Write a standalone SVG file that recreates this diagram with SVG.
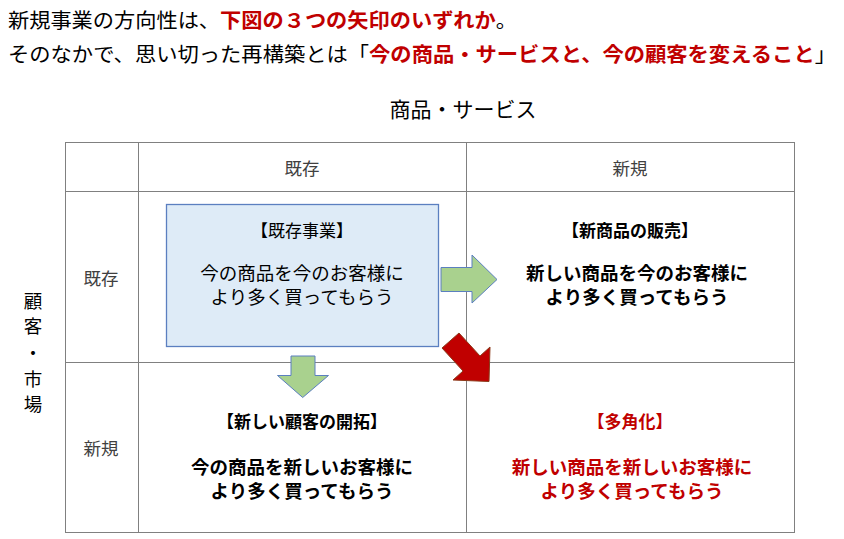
<svg xmlns="http://www.w3.org/2000/svg" width="844" height="539" viewBox="0 0 844 539">
<style>
text{font-family:"Noto Sans CJK JP","Noto Sans CJK SC",sans-serif;dominant-baseline:central;}
.t{font-size:20px;fill:#000;}
.r{fill:#C00000;font-weight:bold;}
.h{font-size:17.5px;fill:#404040;text-anchor:middle;}
.c{font-size:18.5px;fill:#000;text-anchor:middle;}
.k{font-size:17px;}
.b{font-weight:bold;}
.red{fill:#C00000;}
.grid line{stroke:#808080;stroke-width:1;}
</style>
<rect width="844" height="539" fill="#fff"/>
<g id="title">
<text class="t" x="8" y="19" textLength="509" lengthAdjust="spacingAndGlyphs">新規事業の方向性は、<tspan class="r">下図の３つの矢印のいずれか</tspan>。</text>
<text class="t" x="8" y="53" textLength="828" lengthAdjust="spacingAndGlyphs">そのなかで、思い切った再構築とは「<tspan class="r">今の商品・サービスと、今の顧客を変えること</tspan>」</text>
</g>
<g id="axis-x"><text x="463" y="108" style="font-size:21px;text-anchor:middle">商品・サービス</text></g>
<g id="axis-y" style="font-size:18.5px;text-anchor:middle">
<text x="33" y="300">顧</text><text x="33" y="325">客</text><text x="33" y="352">・</text><text x="33" y="378">市</text><text x="33" y="403">場</text>
</g>
<g id="grid" class="grid">
<rect x="65.5" y="142.5" width="729" height="390" fill="none" stroke="#808080" stroke-width="1"/>
<line x1="138.5" y1="142" x2="138.5" y2="533"/>
<line x1="466.5" y1="142" x2="466.5" y2="533"/>
<line x1="65" y1="191.5" x2="795" y2="191.5"/>
<line x1="65" y1="362.5" x2="795" y2="362.5"/>
</g>
<g id="headers">
<text class="h" x="302" y="167">既存</text>
<text class="h" x="630" y="167">新規</text>
<text class="h" x="101" y="277">既存</text>
<text class="h" x="101" y="447">新規</text>
</g>
<g id="existing">
<rect x="166.5" y="204.5" width="272" height="142" fill="#DEEBF7" stroke="#5B7FC0" stroke-width="1.3"/>
<text class="c k" x="302" y="229">【既存事業】</text>
<text class="c" x="302" y="272">今の商品を今のお客様に</text>
<text class="c" x="302" y="296">より多く買ってもらう</text>
</g>
<g id="new-product">
<text class="c k b" x="630" y="229">【新商品の販売】</text>
<text class="c b" x="637" y="272">新しい商品を今のお客様に</text>
<text class="c b" x="637" y="296">より多く買ってもらう</text>
</g>
<g id="new-customer">
<text class="c k b" x="302" y="420">【新しい顧客の開拓】</text>
<text class="c b" x="302" y="466">今の商品を新しいお客様に</text>
<text class="c b" x="302" y="490">より多く買ってもらう</text>
</g>
<g id="diversify">
<text class="c k b red" x="630" y="420">【多角化】</text>
<text class="c b red" x="632" y="466">新しい商品を新しいお客様に</text>
<text class="c b red" x="632" y="490">より多く買ってもらう</text>
</g>
<g id="connectors">
<polygon points="441,267.5 472,267.5 472,255 497,279.5 472,303 472,291.5 441,291.5" fill="#A9D18E" stroke="#5B7FC0" stroke-width="1"/>
<polygon points="291,356 315,356 315,375.5 328.5,375.5 302.7,397.5 277.5,375.5 291,375.5" fill="#A9D18E" stroke="#5B7FC0" stroke-width="1"/>
<polygon points="459,333 480,356 490,347 489,381.5 453,380 463,371 442,348" fill="#C00000" stroke="#8B3A1A" stroke-width="1"/>
</g>
</svg>
